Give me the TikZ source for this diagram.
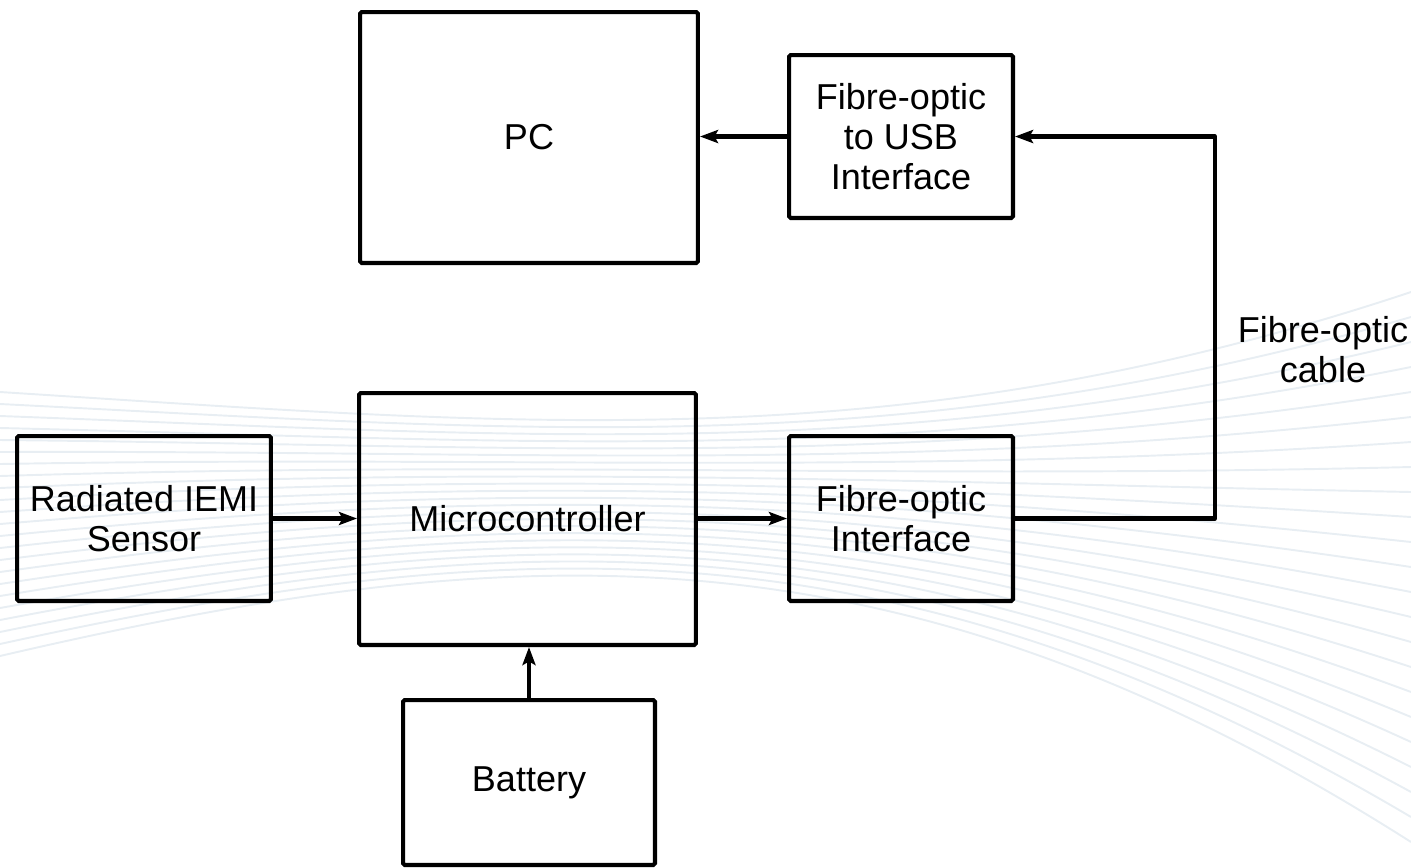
\documentclass[tikz,border=0pt]{standalone}
\usepackage{fontspec}
\setmainfont{Liberation Sans}
\usetikzlibrary{arrows.meta}
\definecolor{swoosh}{RGB}{232,238,243}
\tikzset{
  box/.style={draw=black, line width=2.3pt, rounded corners=1pt, align=center,
    font=\fontsize{20.5}{22.7}\selectfont, inner sep=0pt},
  conn/.style={draw=black, line width=2.3pt, line join=round,
    -{Stealth[length=3.6mm,width=2.6mm,inset=0.7mm]}},
  lbl/.style={align=center, font=\fontsize{20.5}{22.7}\selectfont},
  bgline/.style={draw=swoosh, line width=1.1pt}
}
\begin{document}
\begin{tikzpicture}[x=0.02cm,y=-0.02cm]
\useasboundingbox (0,0) rectangle (1411,867);
% faint background swoosh
\foreach \i in {0,...,22}{
  \draw[bgline] (0,{392+12*\i}) .. controls (520,{425+5*\i}) and (900,{462+2.5*\i}) .. (1411,{292+25*\i});
}
% boxes
\node[box, minimum width=6.76cm, minimum height=5.02cm] (pc) at (529,137.5) {PC};
\node[box, minimum width=4.48cm, minimum height=3.26cm] (usb) at (901,136.5) {Fibre-optic\\to USB\\Interface};
\node[box, minimum width=5.08cm, minimum height=3.3cm] (sensor) at (144,518.5) {Radiated IEMI\\Sensor};
\node[box, minimum width=6.74cm, minimum height=5.04cm] (micro) at (527.5,519) {Microcontroller};
\node[box, minimum width=4.48cm, minimum height=3.3cm] (foi) at (901,518.5) {Fibre-optic\\Interface};
\node[box, minimum width=5.04cm, minimum height=3.3cm] (battery) at (529,782.5) {Battery};
\node[lbl] (cablelbl) at (1323,350) {Fibre-optic\\cable};
% connectors
\coordinate (c1) at (1215,518.5);
\coordinate (c2) at (1215,136.5);
\draw[conn] (usb.west) -- (pc.east |- usb.west);
\draw[conn] (sensor.east) -- (micro.west |- sensor.east);
\draw[conn] (micro.east |- foi.west) -- (foi.west);
\draw[conn] (battery.north) -- (battery.north |- micro.south);
\draw[conn] (foi.east) -- (c1) -- (c2) -- (usb.east);
\end{tikzpicture}
\end{document}
